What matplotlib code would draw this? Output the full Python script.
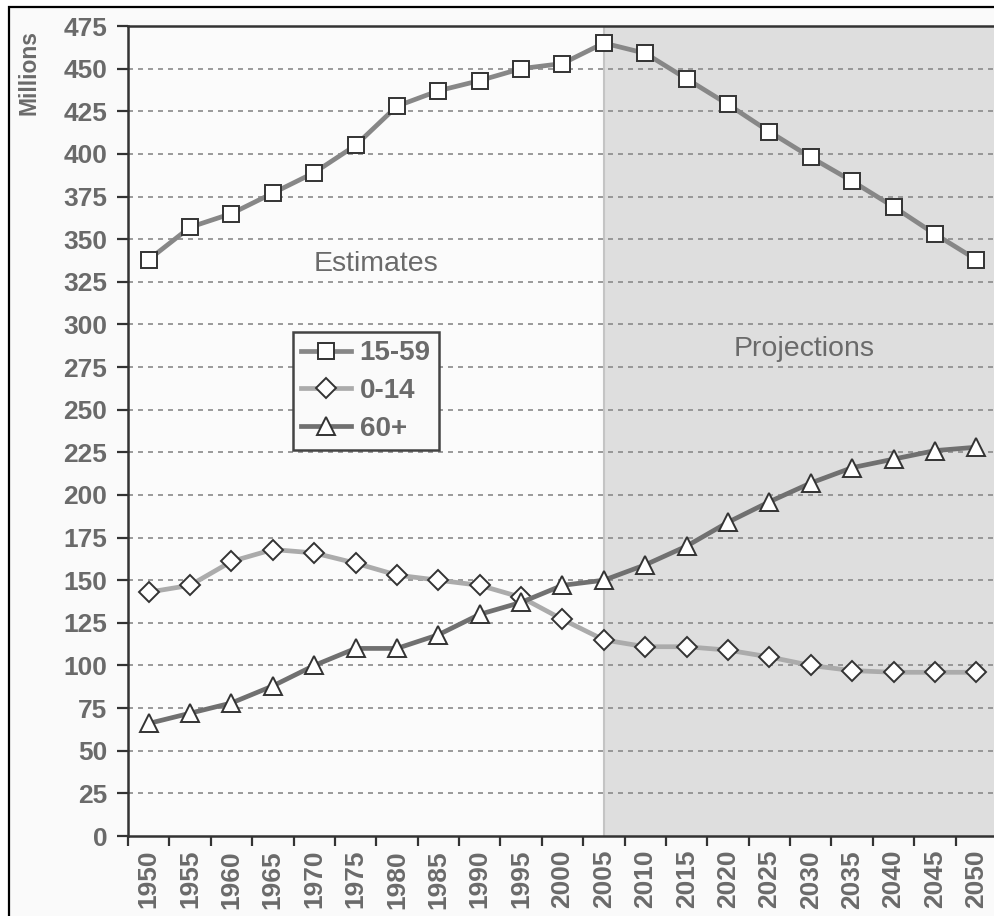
import numpy as np
import matplotlib.pyplot as plt
from matplotlib.patches import Rectangle

# Population by age group, millions
years = ['1950', '1955', '1960', '1965', '1970', '1975', '1980', '1985', '1990', '1995', '2000',
         '2005', '2010', '2015', '2020', '2025', '2030', '2035', '2040', '2045', '2050']
age_15_59 = [338, 357, 365, 377, 389, 405, 428, 437, 443, 450, 453,
             465, 459, 444, 429, 413, 398, 384, 369, 353, 338]
age_0_14 = [143, 147, 161, 168, 166, 160, 153, 150, 147, 140, 127,
            115, 111, 111, 109, 105, 100, 97, 96, 96, 96]
age_60_plus = [66, 72, 78, 88, 100, 110, 110, 118, 130, 137, 147,
               150, 159, 170, 184, 196, 207, 216, 221, 226, 228]
projection_start = '2005'
y_ticks = np.arange(0, 476, 25)

txt_col = '#6a6a6a'
plt.rcParams['font.family'] = ['Liberation Sans', 'DejaVu Sans']

W, H = 995, 916
fig = plt.figure(figsize=(W / 100, H / 100), dpi=100, facecolor='white')

# outer frame of the pasted chart
frame = Rectangle((9 / W, -0.1), 2.0, 1 - 7 / H + 0.1, transform=fig.transFigure,
                  facecolor='#fafafa', edgecolor='black', linewidth=1.6, zorder=-10)
fig.add_artist(frame)

ax = fig.add_axes([128 / W, 1 - 836 / H, (997 - 128) / W, (836 - 26) / H])
ax.set_zorder(5)
ax.set_facecolor('#fbfbfb')

x = np.arange(len(years))
i0 = years.index(projection_start)
ax.axvspan(i0, len(years) - 0.5, facecolor='#dedede', edgecolor='none', zorder=0)
ax.axvline(i0, color='#c4c4c4', linewidth=1.5, zorder=0.5)

for v in y_ticks[1:-1]:
    ax.axhline(v, color='#8a8a8a', linewidth=1.2, linestyle=(0, (3, 3)), zorder=1)

mk = dict(markerfacecolor='white', markeredgecolor='#333333', markeredgewidth=1.4)
ax.plot(x, age_15_59, color='#878787', linewidth=3.4, marker='s', markersize=11.5,
        label='15-59', zorder=3, **mk)
ax.plot(x, age_0_14, color='#ababab', linewidth=3.4, marker='D', markersize=10.5,
        label='0-14', zorder=3, **mk)
ax.plot(x, age_60_plus, color='#707070', linewidth=3.4, marker='^', markersize=13,
        label='60+', zorder=3, **mk)

ax.set_xlim(-0.5, len(years) - 0.5)
ax.set_ylim(0, 475)
ax.set_yticks(y_ticks)
ax.set_yticklabels([str(v) for v in y_ticks])
ax.set_xticks(x)
ax.set_xticklabels(years, rotation=90)
ax.set_xticks(np.arange(len(years) + 1) - 0.5, minor=True)
ax.tick_params(axis='x', which='major', length=0, pad=10, labelsize=19, labelcolor=txt_col)
ax.tick_params(axis='x', which='minor', length=7, width=1.6, direction='out', color='#333333')
ax.tick_params(axis='y', length=8, width=1.6, direction='out', color='#333333',
               pad=7, labelsize=19, labelcolor=txt_col)
for lab in ax.get_xticklabels() + ax.get_yticklabels():
    lab.set_fontweight('bold')

for side in ['left', 'bottom', 'top']:
    ax.spines[side].set_color('#333333')
    ax.spines[side].set_linewidth(1.8)
ax.spines['right'].set_visible(False)

fig.text(29 / W, 1 - 30 / H, 'Millions', rotation=90, ha='center', va='top',
         fontsize=16.5, fontweight='bold', color=txt_col)

ax.text(0.285, 0.698, 'Estimates', transform=ax.transAxes, ha='center', va='baseline',
        fontsize=20.5, color=txt_col)
ax.text(0.778, 0.593, 'Projections', transform=ax.transAxes, ha='center', va='baseline',
        fontsize=20.5, color=txt_col)

leg = ax.legend(loc='upper left', bbox_to_anchor=(293 / W, 1 - 332 / H),
                bbox_transform=fig.transFigure, borderaxespad=0, fontsize=20,
                handlelength=1.8, handletextpad=0.3, labelspacing=0.42, borderpad=0.3,
                fancybox=False, framealpha=1, facecolor='#fafafa', edgecolor='#444444')
leg.get_frame().set_linewidth(1.8)
for t in leg.get_texts():
    t.set_fontweight('bold')
    t.set_color(txt_col)

fig.savefig('out.png', dpi=100, facecolor='white')
